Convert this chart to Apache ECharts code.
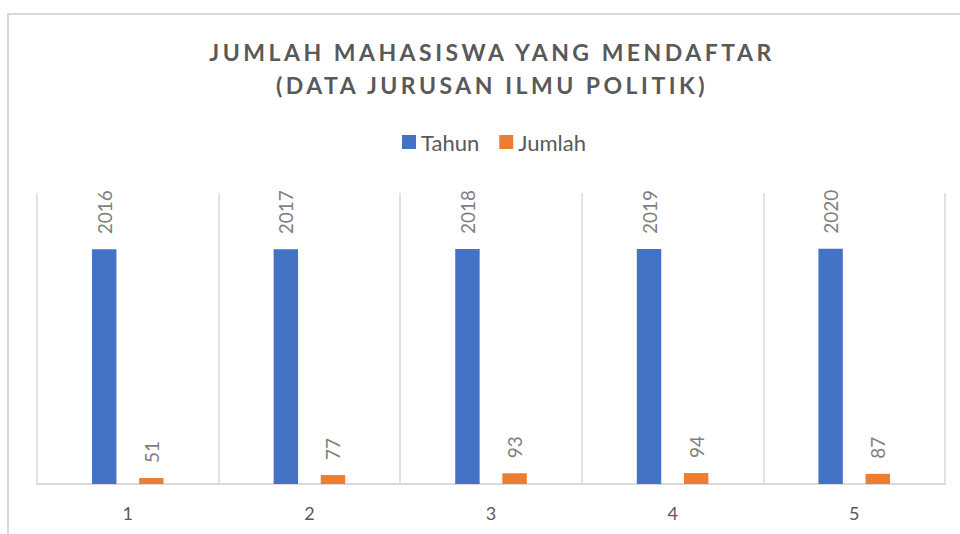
<!DOCTYPE html>
<html>
<head>
<meta charset="utf-8">
<script src="https://cdn.jsdelivr.net/npm/echarts@6/dist/echarts.min.js"></script>
<style>
  html, body { margin: 0; padding: 0; background: #ffffff; }
  #chart { width: 960px; height: 534px; }
  #chart svg text[style*="bold"], #chart svg text[font-weight="bold"] { letter-spacing: 3.5px; }
</style>
</head>
<body>
<div id="chart"></div>
<script>
const titleText = 'JUMLAH MAHASISWA YANG MENDAFTAR\n(DATA JURUSAN ILMU POLITIK)';
const categories = ['1', '2', '3', '4', '5'];
const tahunValues = [2016, 2017, 2018, 2019, 2020];
const jumlahValues = [51, 77, 93, 94, 87];
const seriesNames = ['Tahun', 'Jumlah'];
const yMax = 2500;

const chart = echarts.init(document.getElementById('chart'), null, { renderer: 'svg' });

const labelStyle = {
  show: true,
  position: 'top',
  rotate: 90,
  align: 'left',
  verticalAlign: 'middle',
  distance: 15,
  color: '#7f7f7f',
  fontSize: 19,
  fontFamily: 'Lato'
};

chart.setOption({
  backgroundColor: '#ffffff',
  animation: false,
  graphic: [{
    type: 'rect',
    silent: true,
    z: -10,
    shape: { x: 8, y: 14, width: 1000, height: 1000 },
    style: { fill: 'none', stroke: '#d9d9d9', lineWidth: 2 }
  }],
  title: {
    text: titleText,
    left: 487,
    top: 30,
    textAlign: 'center',
    textStyle: {
      fontFamily: 'Lato',
      fontWeight: 'bold',
      fontSize: 23,
      lineHeight: 33,
      color: '#595959'
    }
  },
  legend: {
    data: seriesNames,
    left: 402,
    top: 131,
    padding: 0,
    itemWidth: 14,
    itemHeight: 14,
    itemGap: 20,
    icon: 'rect',
    textStyle: { fontFamily: 'Lato', fontSize: 22, color: '#595959' }
  },
  grid: {
    left: 37,
    right: 15,
    top: 193,
    bottom: 50,
    containLabel: false,
    outerBoundsMode: 'none'
  },
  xAxis: {
    type: 'category',
    data: categories,
    axisTick: { show: false },
    axisLine: { lineStyle: { color: '#d9d9d9', width: 2 } },
    splitLine: { show: true, lineStyle: { color: '#d9d9d9', width: 1.5 } },
    axisLabel: { color: '#595959', fontSize: 18, fontFamily: 'Lato', margin: 20 }
  },
  yAxis: {
    type: 'value',
    min: 0,
    max: yMax,
    show: false
  },
  series: [
    {
      name: seriesNames[0],
      type: 'bar',
      data: tahunValues,
      itemStyle: { color: '#4472c4' },
      barGap: '93%',
      barCategoryGap: '60.6%',
      label: labelStyle
    },
    {
      name: seriesNames[1],
      type: 'bar',
      data: jumlahValues,
      itemStyle: { color: '#ed7d31' },
      barGap: '93%',
      barCategoryGap: '60.6%',
      label: labelStyle
    }
  ]
});
</script>
</body>
</html>
